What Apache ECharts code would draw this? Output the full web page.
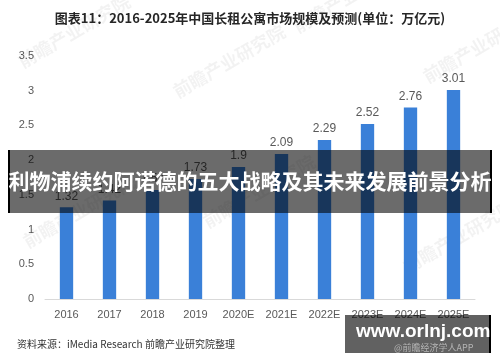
<!DOCTYPE html>
<html>
<head>
<meta charset="utf-8">
<script src="https://cdn.jsdelivr.net/npm/echarts@6/dist/echarts.min.js"></script>
<style>html,body{margin:0;padding:0;background:#fff;}#c{width:500px;height:362px;}</style>
</head>
<body>
<div id="c"></div>
<script>
const categories = ['2016','2017','2018','2019','2020E','2021E','2022E','2023E','2024E','2025E'];
const marketSize = [1.32, 1.42, 1.57, 1.73, 1.9, 2.09, 2.29, 2.52, 2.76, 3.01];
const yTicks = [0, 0.5, 1, 1.5, 2, 2.5, 3, 3.5];
const titleText = '图表11：2016-2025年中国长租公寓市场规模及预测(单位：万亿元)';
const bannerText = '利物浦续约阿诺德的五大战略及其未来发展前景分析';
const sourceText = '资料来源：iMedia Research 前瞻产业研究院整理';
const siteText = 'www.orlnj.com';
const appText = '@前瞻经济学人APP';
const watermarkText = '前瞻产业研究院';

const font = '"Noto Sans CJK SC", "Microsoft YaHei", sans-serif';
const wm = (x, y) => ({type: 'text', x: x, y: y, rotation: Math.PI / 6, z: 1,
  style: {text: watermarkText, fill: 'rgba(0,0,0,0.05)', font: 'bold 18px ' + font}});
const chart = echarts.init(document.getElementById('c'));
chart.setOption({
  backgroundColor: '#fff',
  animation: false,
  title: {
    text: titleText, left: 'center', top: 7,
    textStyle: {fontSize: 13, fontWeight: 'bold', color: '#262626', fontFamily: font}
  },
  grid: {left: 45, right: 25, top: 56, bottom: 63},
  xAxis: {
    type: 'category', data: categories,
    axisLine: {lineStyle: {color: '#d9d9d9'}},
    axisTick: {show: false},
    axisLabel: {color: '#595959', fontSize: 11, margin: 10, fontFamily: 'Liberation Sans, Arial, sans-serif'}
  },
  yAxis: {
    type: 'value', min: yTicks[0], max: yTicks[yTicks.length-1], interval: 0.5,
    axisLine: {show: false}, axisTick: {show: false}, splitLine: {show: false},
    axisLabel: {color: '#595959', fontSize: 11, margin: 11, fontFamily: 'Liberation Sans, Arial, sans-serif'}
  },
  series: [{
    type: 'bar', data: marketSize, barWidth: '31%', z: 5,
    itemStyle: {color: '#3a80d8'},
    label: {show: true, position: 'top', distance: 5, color: '#595959', fontSize: 12, fontFamily: 'Liberation Sans, Arial, sans-serif'}
  }],
  graphic: [
    wm(15, 55), wm(170, 85), wm(290, 20), wm(20, 235), wm(200, 215), wm(420, 70), wm(400, 260),
    {type: 'rect', left: 8, top: 150, z: 100, shape: {width: 484, height: 63}, style: {fill: 'rgba(0,0,0,0.58)'}},
    {type: 'rect', left: 8, top: 150, z: 101, shape: {width: 2, height: 63}, style: {fill: '#000'}},
    {type: 'rect', left: 490, top: 150, z: 101, shape: {width: 2, height: 63}, style: {fill: '#000'}},
    {type: 'text', left: 'center', top: 171, z: 102, style: {text: bannerText, fill: '#fff', font: 'bold 21px ' + font}},
    {type: 'text', left: 17, top: 339, z: 50, style: {text: sourceText, fill: '#333', font: '10px ' + font}},
    {type: 'rect', left: 345, top: 315, z: 100, shape: {width: 145, height: 38}, style: {fill: 'rgba(0,0,0,0.62)'}},
    {type: 'rect', left: 489, top: 315, z: 101, shape: {width: 2, height: 38}, style: {fill: '#000'}},
    {type: 'text', left: 356, top: 322, z: 102, style: {text: siteText, fill: '#fff', font: 'bold 19px "Liberation Sans", Arial, sans-serif'}},
    {type: 'text', left: 394, top: 343, z: 102, style: {text: appText, fill: 'rgba(200,200,200,0.8)', font: '9px ' + font}}
  ]
});
</script>
</body>
</html>
